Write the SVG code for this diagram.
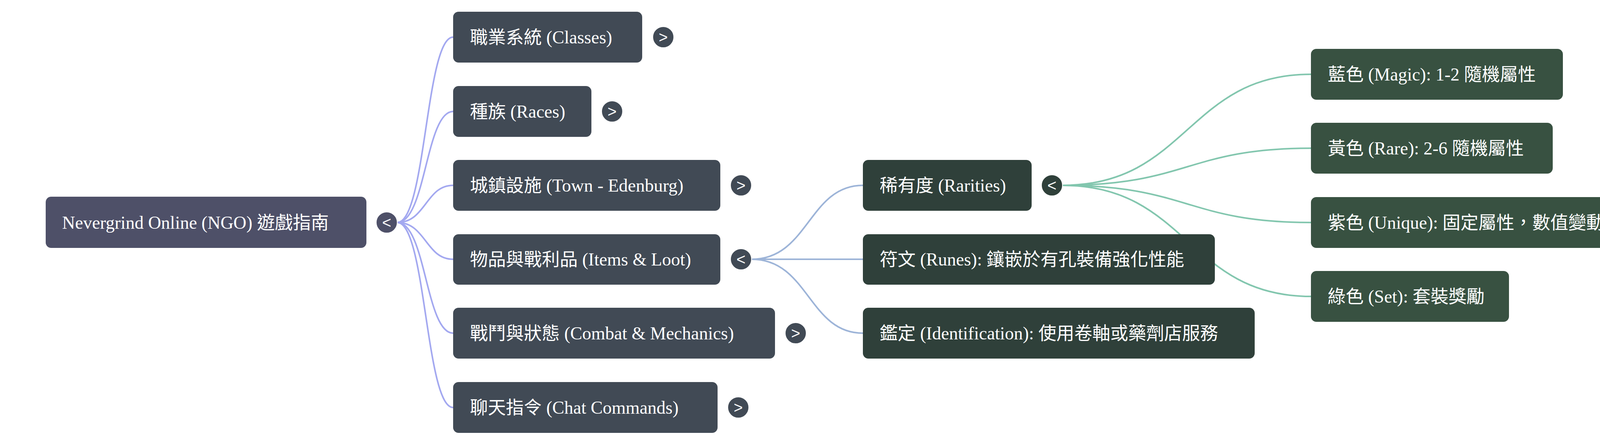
<svg xmlns="http://www.w3.org/2000/svg" width="4379" height="1138" viewBox="0 0 4379 1138">
<style>
text{font-family:"Liberation Serif","Noto Sans CJK TC",serif;font-size:46px;fill:#fff}
.t{font-family:"Liberation Sans",sans-serif;font-size:40px;text-anchor:middle}
.l1{fill:#414a55}.l2{fill:#2f403a}.l3{fill:#385141}
.c1{fill:none;stroke:#a3a8f0;stroke-width:4}
.c2{fill:none;stroke:#9db4d8;stroke-width:4}
.c3{fill:none;stroke:#82c6ae;stroke-width:4}
.tg{stroke:#fff;stroke-width:2}
</style>
<g id="connectors">
<path class="c1" d="M1017 569 C1090 569 1090 95 1160 95"/>
<path class="c1" d="M1017 569 C1090 569 1090 285 1160 285"/>
<path class="c1" d="M1017 569 C1090 569 1090 474 1160 474"/>
<path class="c1" d="M1017 569 C1090 569 1090 663 1160 663"/>
<path class="c1" d="M1017 569 C1090 569 1090 852 1160 852"/>
<path class="c1" d="M1017 569 C1090 569 1090 1042 1160 1042"/>
<path class="c2" d="M1924 663 C2070 663 2070 474 2209 474"/>
<path class="c2" d="M1924 663 L2209 663"/>
<path class="c2" d="M1924 663 C2070 663 2070 852 2209 852"/>
<path class="c3" d="M2720 474 C3040 474 3040 190 3356 190"/>
<path class="c3" d="M2720 474 C3040 474 3040 379 3356 379"/>
<path class="c3" d="M2720 474 C3040 474 3040 569 3356 569"/>
<path class="c3" d="M2720 474 C3040 474 3040 758 3356 758"/>
</g>
<g id="root"><rect x="117" y="503" width="821" height="131" rx="14" fill="#4e5068"/><text x="159" y="585">Nevergrind Online (NGO) 遊戲指南</text><circle class="tg" cx="990" cy="569" r="27" fill="#4e5068"/><text class="t" x="990" y="583">&lt;</text></g>
<g id="classes"><rect class="l1" x="1160" y="30" width="484" height="130" rx="14"/><text x="1203" y="111">職業系統 (Classes)</text><circle class="tg l1" cx="1698" cy="95" r="27"/><text class="t" x="1698" y="109">&gt;</text></g>
<g id="races"><rect class="l1" x="1160" y="220" width="354" height="130" rx="14"/><text x="1203" y="301">種族 (Races)</text><circle class="tg l1" cx="1567" cy="285" r="27"/><text class="t" x="1567" y="299">&gt;</text></g>
<g id="town"><rect class="l1" x="1160" y="409" width="684" height="130" rx="14"/><text x="1203" y="490">城鎮設施 (Town - Edenburg)</text><circle class="tg l1" cx="1897" cy="474" r="27"/><text class="t" x="1897" y="488">&gt;</text></g>
<g id="items"><rect class="l1" x="1160" y="599" width="684" height="129" rx="14"/><text x="1203" y="679">物品與戰利品 (Items &amp; Loot)</text><circle class="tg l1" cx="1897" cy="663" r="27"/><text class="t" x="1897" y="677">&lt;</text></g>
<g id="combat"><rect class="l1" x="1160" y="787" width="824" height="130" rx="14"/><text x="1203" y="868">戰鬥與狀態 (Combat &amp; Mechanics)</text><circle class="tg l1" cx="2037" cy="852" r="27"/><text class="t" x="2037" y="866">&gt;</text></g>
<g id="chat"><rect class="l1" x="1160" y="977" width="677" height="130" rx="14"/><text x="1203" y="1058">聊天指令 (Chat Commands)</text><circle class="tg l1" cx="1890" cy="1042" r="27"/><text class="t" x="1890" y="1056">&gt;</text></g>
<g id="rarities"><rect class="l2" x="2209" y="409" width="432" height="130" rx="14"/><text x="2252" y="490">稀有度 (Rarities)</text><circle class="tg l2" cx="2693" cy="474" r="27"/><text class="t" x="2693" y="488">&lt;</text></g>
<g id="runes"><rect class="l2" x="2209" y="599" width="901" height="129" rx="14"/><text x="2252" y="679">符文 (Runes): 鑲嵌於有孔裝備強化性能</text></g>
<g id="ident"><rect class="l2" x="2209" y="787" width="1003" height="130" rx="14"/><text x="2252" y="868">鑑定 (Identification): 使用卷軸或藥劑店服務</text></g>
<g id="magic"><rect class="l3" x="3356" y="125" width="645" height="130" rx="14"/><text x="3399" y="206">藍色 (Magic): 1-2 隨機屬性</text></g>
<g id="rare"><rect class="l3" x="3356" y="314" width="619" height="130" rx="14"/><text x="3399" y="395">黃色 (Rare): 2-6 隨機屬性</text></g>
<g id="unique"><rect class="l3" x="3356" y="504" width="824" height="130" rx="14"/><text x="3399" y="585">紫色 (Unique): 固定屬性，數值變動</text></g>
<g id="set"><rect class="l3" x="3356" y="693" width="507" height="130" rx="14"/><text x="3399" y="774">綠色 (Set): 套裝獎勵</text></g>
</svg>
